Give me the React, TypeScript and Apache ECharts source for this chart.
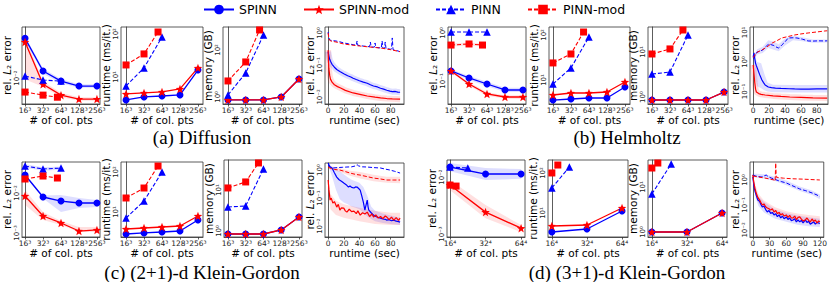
import React, { useEffect, useRef } from 'react';
import * as echarts from 'echarts';

const BLUE = '#0000ff';
const RED = '#ff0000';
const BLUE_BAND = 'rgba(0,0,255,0.13)';
const RED_BAND = 'rgba(255,0,0,0.12)';
const FONT = 'DejaVu Sans';
const STAR = 'path://M12,1 L14.9,8.6 L23,9 L16.7,14.1 L18.9,22 L12,17.5 L5.1,22 L7.3,14.1 L1,9 L9.1,8.6 Z';

const LEGEND_NAMES = ['SPINN', 'SPINN-mod', 'PINN', 'PINN-mod'];
const COL3_LABELS = ['16³', '32³', '64³', '128³', '256³'];
const COL4_LABELS = ['16⁴', '32⁴', '64⁴'];
const X5 = [0, 1, 2, 3, 4];
const X3 = [0, 1, 2];
const CAPTIONS = ['(a) Diffusion', '(b) Helmholtz', '(c) (2+1)-d Klein-Gordon', '(d) (3+1)-d Klein-Gordon'];
const T_TICKS_20 = [0, 20, 40, 60, 80];
const T_TICKS_30 = [0, 30, 60, 90, 120];

// ---------- (a) Diffusion ----------
const A1_SPINN = [0.046, 0.0131, 0.0089, 0.00736, 0.00736];
const A1_SPINN_LO = [0.042, 0.0118, 0.0082, 0.0069, 0.0069];
const A1_SPINN_HI = [0.05, 0.0145, 0.0097, 0.0079, 0.0079];
const A1_MOD = [0.04, 0.0079, 0.0052, 0.00447, 0.00447];
const A1_MOD_LO = [0.0095, 0.0072, 0.0048, 0.0042, 0.0042];
const A1_MOD_HI = [0.05, 0.0088, 0.0057, 0.0048, 0.0048];
const A1_PINN_X = [0, 1, 2];
const A1_PINN = [0.0108, 0.0093, 0.0089];
const A1_PMOD_X = [0, 1, 1.8];
const A1_PMOD = [0.00585, 0.0052, 0.0048];

const A2_SPINN = [2.92, 3.43, 3.61, 3.81, 14.5];
const A2_MOD = [4.03, 4.25, 4.48, 5.26, 16.2];
const A2_PINN = [6.17, 16.2, 85];
const A2_PMOD_X = [0, 1, 1.78];
const A2_PMOD = [19.0, 34.3, 111];

const A3_SPINN = [0.745, 0.745, 0.745, 1.0, 5.83];
const A3_MOD = [0.745, 0.745, 0.745, 1.0, 5.83];
const A3_PINN = [1.22, 10.5, 436];
const A3_PMOD_X = [0, 1, 1.78];
const A3_PMOD = [4.79, 30.9, 711];

const A4_SPINN = [[0, 0.26], [1, 0.19], [2, 0.15], [3, 0.13], [5, 0.105], [8, 0.085], [11, 0.072], [15, 0.062], [20, 0.053], [25, 0.046], [29, 0.042], [32, 0.0384], [36, 0.035], [40, 0.032], [45, 0.029], [50, 0.0268], [54, 0.024], [58, 0.022], [63, 0.0205], [67, 0.0187], [71, 0.0175], [75, 0.0162], [79, 0.0152], [82, 0.0146], [86, 0.0148], [89, 0.0142], [92, 0.014]];
const A4_MOD = [[0, 0.29], [0.5, 0.12], [1, 0.075], [2, 0.047], [3, 0.036], [5, 0.029], [8, 0.024], [12, 0.021], [16, 0.019], [22, 0.016], [32, 0.0133], [42, 0.0118], [50, 0.0107], [60, 0.0098], [67, 0.0093], [75, 0.0089], [82, 0.0087], [92, 0.0085]];
const A4_PINN = [[0, 1.07], [1, 0.7], [2, 0.604], [5, 0.58], [10, 0.562], [15, 0.53], [20, 0.487], [26, 0.46], [32, 0.43], [36, 0.415], [37, 0.562], [38, 0.41], [45, 0.39], [50, 0.38], [53, 0.37], [54, 0.523], [55, 0.365], [59, 0.36], [60, 0.487], [61, 0.355], [65, 0.345], [68, 0.34], [69, 0.562], [70, 0.335], [72, 0.33], [73, 0.523], [74, 0.325], [80, 0.31], [81, 0.316], [82, 0.7], [83, 0.3], [88, 0.28], [92, 0.26]];
const A4_PMOD = [[0, 1.0], [1, 0.65], [3, 0.562], [10, 0.523], [20, 0.453], [30, 0.42], [40, 0.393], [50, 0.37], [60, 0.352], [70, 0.33], [80, 0.3], [92, 0.26]];

// ---------- (b) Helmholtz ----------
const B1_SPINN = [0.162, 0.1155, 0.0866, 0.065, 0.065];
const B1_SPINN_LO = [0.15, 0.105, 0.078, 0.059, 0.059];
const B1_SPINN_HI = [0.175, 0.127, 0.096, 0.072, 0.072];
const B1_MOD = [0.162, 0.0866, 0.0537, 0.0464, 0.0464];
const B1_MOD_LO = [0.152, 0.08, 0.049, 0.043, 0.042];
const B1_MOD_HI = [0.172, 0.094, 0.059, 0.05, 0.051];
const B1_PINN = [1.05, 1.05, 1.05];
const B1_PMOD_X = [0, 1, 1.75];
const B1_PMOD = [0.56, 0.59, 0.56];
const B1_PMOD_LO = [0.52, 0.55, 0.52];
const B1_PMOD_HI = [0.6, 0.63, 0.6];

const B2_SPINN = [3.59, 3.78, 3.98, 3.98, 6.98];
const B2_MOD = [4.64, 5.14, 5.14, 5.41, 9.03];
const B2_PINN = [8.15, 18.5, 90];
const B2_PMOD_X = [0, 1, 1.7];
const B2_PMOD = [23.9, 37.8, 116];

const B3_SPINN = [0.858, 0.858, 0.858, 0.858, 1.29];
const B3_MOD = [0.858, 0.858, 0.858, 0.858, 1.29];
const B3_PINN = [3.24, 3.59, 23.9];
const B3_PMOD_X = [0, 1, 1.72];
const B3_PMOD = [9.03, 11.7, 30.8];

const B4_SPINN = [[0, 1.5], [1, 2.02], [2, 1.3], [3, 0.9], [4, 0.75], [6, 0.536], [8, 0.38], [11, 0.245], [13, 0.2], [15, 0.166], [19, 0.142], [23, 0.135], [28, 0.131], [35, 0.127], [45, 0.124], [52, 0.122], [60, 0.121], [70, 0.121], [80, 0.122], [93, 0.122]];
const B4_SPINN_BAND = [[0, 0.8, 2.0], [2, 0.3, 1.5], [5, 0.15, 1.0], [10, 0.13, 0.9], [14, 0.11, 0.4], [18, 0.1, 0.2], [25, 0.095, 0.17], [50, 0.093, 0.165], [93, 0.093, 0.165]];
const B4_MOD = [[0, 0.79], [1, 0.4], [2, 0.2], [3, 0.12], [4, 0.096], [7, 0.085], [10, 0.08], [15, 0.076], [25, 0.071], [35, 0.068], [46, 0.065], [60, 0.063], [75, 0.061], [93, 0.06]];
const B4_PINN = [[0, 1.3], [1, 1.37], [3, 1.8], [5, 2.18], [8, 2.3], [12, 2.55], [16, 3.3], [19, 4.0], [22, 3.9], [26, 3.6], [30, 3.1], [32, 2.98], [34, 3.3], [36, 3.77], [40, 4.8], [44, 6.5], [50, 6.6], [55, 6.5], [62, 5.9], [69, 5.15], [75, 5.1], [82, 5.2], [90, 5.15], [93, 5.2]];
const B4_PINN_BAND = [[0, 1.1, 1.5], [5, 1.8, 2.7], [12, 2.0, 3.3], [19, 3.0, 5.4], [26, 2.6, 4.8], [32, 2.3, 4.0], [40, 3.6, 6.2], [50, 5.4, 7.8], [62, 5.0, 6.9], [75, 4.5, 5.8], [93, 4.6, 5.8]];
const B4_PMOD = [[0, 1.4], [3, 1.9], [6, 2.2], [11, 2.55], [17, 3.2], [24, 4.4], [30, 5.3], [36, 6.5], [44, 7.3], [52, 8.2], [60, 8.9], [69, 9.6], [80, 10.4], [90, 11.2], [93, 11.4]];

// ---------- (c) (2+1)-d Klein-Gordon ----------
const C1_SPINN = [0.0282, 0.00794, 0.0063, 0.00562, 0.00562];
const C1_SPINN_LO = [0.0265, 0.0073, 0.00335, 0.0042, 0.00447];
const C1_SPINN_HI = [0.03, 0.0087, 0.0089, 0.0075, 0.0067];
const C1_MOD = [0.00841, 0.00266, 0.00178, 0.00112, 0.00119];
const C1_MOD_LO = [0.005, 0.00211, 0.00158, 0.00106, 0.00106];
const C1_MOD_HI = [0.0119, 0.00335, 0.002, 0.00141, 0.00141];
const C1_PINN = [0.0473, 0.0398, 0.042];
const C1_PINN_LO = [0.043, 0.036, 0.038];
const C1_PINN_HI = [0.052, 0.044, 0.046];
const C1_PMOD_X = [0, 1, 1.8];
const C1_PMOD = [0.0224, 0.0266, 0.0237];

const C2_SPINN = [2.82, 2.99, 3.16, 3.35, 6.31];
const C2_MOD = [3.76, 3.98, 4.22, 4.47, 7.94];
const C2_PINN = [7.08, 18.8, 100];
const C2_PMOD_X = [0, 1, 1.78];
const C2_PMOD = [22.4, 39.8, 141];

const C3_SPINN = [0.845, 0.845, 0.845, 1.06, 2.19];
const C3_MOD = [0.845, 0.845, 0.845, 1.06, 2.19];
const C3_PINN = [3.85, 4.07, 32.5];
const C3_PMOD_X = [0, 1, 1.72];
const C3_PMOD = [11.2, 15.7, 45.6];

const C4_SPINN = [[0, 1.78], [2, 1.3], [5, 1.18], [8, 0.8], [11, 0.56], [14, 0.45], [17, 0.4], [20, 0.343], [23, 0.3], [26, 0.247], [28, 0.27], [30, 0.24], [33, 0.228], [35, 0.25], [37, 0.247], [39, 0.22], [41, 0.193], [43, 0.12], [45, 0.072], [47, 0.0373], [48, 0.05], [50, 0.085], [51, 0.05], [52, 0.0373], [55, 0.03], [58, 0.0247], [61, 0.022], [64, 0.0205], [67, 0.0193], [70, 0.018], [73, 0.0175], [75, 0.0164], [78, 0.017], [81, 0.0155], [84, 0.0164], [87, 0.015], [90, 0.0145], [92, 0.0139]];
const C4_SPINN_BAND = [[0, 1.5, 1.9], [5, 0.6, 1.3], [10, 0.2, 1.0], [15, 0.09, 0.9], [20, 0.07, 0.7], [25, 0.06, 0.55], [30, 0.05, 0.45], [35, 0.045, 0.4], [40, 0.04, 0.35], [45, 0.03, 0.25], [50, 0.022, 0.12], [55, 0.018, 0.05], [60, 0.015, 0.035], [70, 0.013, 0.028], [80, 0.012, 0.024], [92, 0.011, 0.02]];
const C4_MOD = [[0, 0.44], [1, 0.2], [2.5, 0.085], [4, 0.1], [6, 0.066], [8, 0.075], [11, 0.0477], [13, 0.06], [15, 0.0373], [17, 0.045], [20, 0.044], [22, 0.035], [24, 0.0316], [27, 0.04], [30, 0.033], [33, 0.0343], [36, 0.028], [38, 0.035], [41, 0.0247], [44, 0.03], [47, 0.027], [50, 0.0316], [53, 0.022], [56, 0.027], [58, 0.021], [61, 0.025], [64, 0.0193], [67, 0.022], [70, 0.0185], [73, 0.023], [75, 0.021], [78, 0.017], [81, 0.021], [84, 0.0164], [87, 0.02], [90, 0.016], [92, 0.0193]];
const C4_MOD_BAND = [[0, 0.2, 0.6], [3, 0.04, 0.14], [10, 0.025, 0.08], [20, 0.02, 0.06], [40, 0.015, 0.045], [60, 0.012, 0.035], [80, 0.011, 0.03], [92, 0.011, 0.03]];
const C4_PINN = [[0, 1.51], [3, 1.28], [6, 1.18], [12, 1.22], [18, 1.25], [24, 1.28], [30, 1.3], [35, 1.4], [37, 1.55], [39, 1.4], [44, 1.3], [50, 1.28], [58, 1.22], [67, 1.18], [73, 1.08], [79, 1.0], [85, 0.9], [92, 0.78]];
const C4_PMOD = [[0, 1.28], [3, 1.15], [8, 1.05], [15, 1.0], [22, 0.88], [28, 0.78], [35, 0.7], [41, 0.66], [50, 0.58], [58, 0.518], [67, 0.48], [75, 0.44], [84, 0.44], [92, 0.44]];
const C4_PMOD_BAND = [[0, 1.1, 1.45], [15, 0.85, 1.15], [28, 0.62, 0.95], [41, 0.5, 0.85], [58, 0.4, 0.68], [75, 0.35, 0.58], [92, 0.34, 0.58]];

// ---------- (d) (3+1)-d Klein-Gordon ----------
const D1_SPINN = [0.015, 0.0113, 0.0113];
const D1_SPINN_LO = [0.0127, 0.0089, 0.0093];
const D1_SPINN_HI = [0.0176, 0.0144, 0.0138];
const D1_MOD = [0.00724, 0.00243, 0.00127];
const D1_MOD_LO = [0.0059, 0.0019, 0.00108];
const D1_MOD_HI = [0.00886, 0.00324, 0.00144];
const D1_PINN_X = [0, 0.5];
const D1_PINN = [0.015, 0.0144];
const D1_PMOD_X = [0, 0.17];
const D1_PMOD = [0.00724, 0.00695];

const D2_SPINN = [3.35, 3.98, 11.2];
const D2_MOD = [4.73, 5.01, 13.3];
const D2_PINN_X = [0, 0.5];
const D2_PINN = [42.2, 141];
const D2_PMOD_X = [0, 0.17];
const D2_PMOD = [100, 158];

const D3_SPINN = [1.0, 1.0, 2.64];
const D3_MOD = [1.0, 1.0, 2.64];
const D3_PINN_X = [0, 0.55];
const D3_PINN = [6.99, 32.4];
const D3_PMOD_X = [0, 0.17];
const D3_PMOD = [26.4, 34.1];

const D4_SPINN = [[0, 1.32], [2, 0.6], [4, 0.35], [6, 0.25], [9, 0.158], [12, 0.14], [15, 0.1], [17, 0.083], [20, 0.09], [23, 0.065], [26, 0.0525], [29, 0.06], [32, 0.046], [35, 0.05], [38, 0.0398], [41, 0.045], [44, 0.034], [47, 0.04], [50, 0.0302], [53, 0.036], [56, 0.028], [60, 0.0331], [63, 0.026], [66, 0.03], [69, 0.0235], [72, 0.0251], [75, 0.028], [78, 0.021], [81, 0.025], [84, 0.0209], [87, 0.024], [90, 0.019], [94, 0.0251], [97, 0.02], [100, 0.022], [103, 0.017], [106, 0.019], [109, 0.021], [112, 0.017], [115, 0.02], [118, 0.019], [120, 0.018]];
const D4_SPINN_BAND = [[0, 1.0, 1.6], [5, 0.2, 0.45], [10, 0.09, 0.22], [20, 0.05, 0.13], [40, 0.028, 0.065], [60, 0.021, 0.048], [80, 0.016, 0.038], [100, 0.014, 0.032], [120, 0.013, 0.028]];
const D4_MOD = [[0, 1.58], [2, 0.75], [4, 0.45], [6, 0.3], [9, 0.2], [12, 0.16], [15, 0.12], [17, 0.1], [20, 0.11], [23, 0.085], [26, 0.076], [29, 0.07], [32, 0.062], [35, 0.07], [38, 0.0525], [41, 0.06], [44, 0.045], [47, 0.05], [50, 0.0398], [53, 0.045], [56, 0.036], [60, 0.0398], [63, 0.032], [66, 0.038], [69, 0.03], [72, 0.0302], [75, 0.036], [78, 0.026], [81, 0.032], [84, 0.0331], [87, 0.027], [90, 0.023], [94, 0.0251], [97, 0.03], [100, 0.024], [103, 0.021], [106, 0.0275], [109, 0.022], [112, 0.025], [115, 0.019], [118, 0.023], [120, 0.0209]];
const D4_MOD_BAND = [[0, 1.2, 1.8], [5, 0.25, 0.6], [10, 0.12, 0.28], [20, 0.07, 0.15], [40, 0.037, 0.08], [60, 0.027, 0.056], [80, 0.021, 0.045], [100, 0.018, 0.04], [120, 0.016, 0.035]];
const D4_PINN = [[0, 1.58], [5, 1.45], [10, 1.38], [15, 1.32], [20, 1.45], [24, 1.58], [28, 1.35], [33, 1.2], [38, 1.1], [45, 0.95], [52, 0.85], [60, 0.76], [70, 0.6], [84, 0.437], [95, 0.37], [106, 0.302], [115, 0.25], [120, 0.209]];
const D4_PINN_BAND = [[0, 1.3, 1.8], [20, 1.15, 1.7], [40, 0.9, 1.35], [60, 0.62, 0.95], [84, 0.36, 0.55], [106, 0.25, 0.38], [120, 0.17, 0.26]];
const D4_PMOD = [[0, 1.45], [10, 1.32], [21, 1.2], [30, 1.1], [38, 1.0], [40, 0.9], [41, 4.79], [42, 1.3], [46, 1.25], [55, 1.18], [70, 1.12], [90, 1.08], [120, 1.0]];

// ---------- layout (positions only) ----------
// [left, top, width, height]
const GRIDS = [
  [22, 27, 78, 77], [121, 27, 82, 77], [223, 27, 79, 77], [325, 27, 79, 77],
  [448, 27, 78, 77], [549, 27, 81, 77], [648, 27, 80, 77], [750, 27, 78, 77],
  [22, 162, 78, 75], [121, 162, 82, 75], [224, 160, 78, 77], [325, 163, 79, 74],
  [447, 160, 78, 77], [548, 160, 80, 77], [648, 160, 79, 77], [750, 162, 77, 75],
];

type XCfg = { kind: 'col3' | 'col4' | 'time'; min: number; max: number; ticks?: number[] };
type YCfg = { min: number; max: number; name: 'err' | 'rt' | 'mem'; gap: number; even?: boolean };
const XCFG: XCfg[] = [
  { kind: 'col3', min: -0.17, max: 4.17 }, { kind: 'col3', min: -0.28, max: 4.28 }, { kind: 'col3', min: -0.28, max: 4.17 }, { kind: 'time', min: -4, max: 97, ticks: T_TICKS_20 },
  { kind: 'col3', min: -0.17, max: 4.17 }, { kind: 'col3', min: -0.22, max: 4.28 }, { kind: 'col3', min: -0.22, max: 4.22 }, { kind: 'time', min: -4, max: 94, ticks: T_TICKS_20 },
  { kind: 'col3', min: -0.17, max: 4.17 }, { kind: 'col3', min: -0.28, max: 4.28 }, { kind: 'col3', min: -0.22, max: 4.17 }, { kind: 'time', min: -4, max: 97, ticks: T_TICKS_20 },
  { kind: 'col4', min: -0.085, max: 2.11 }, { kind: 'col4', min: -0.11, max: 2.17 }, { kind: 'col4', min: -0.11, max: 2.14 }, { kind: 'time', min: -5, max: 127, ticks: T_TICKS_30 },
];
const YCFG: YCfg[] = [
  { min: 0.0037, max: 0.071, name: 'err', gap: 10 }, { min: 2.35, max: 145, name: 'rt', gap: 7 }, { min: 0.5, max: 950, name: 'mem', gap: 8, even: true }, { min: 0.006, max: 1.54, name: 'err', gap: 8 },
  { min: 0.0332, max: 1.33, name: 'err', gap: 10 }, { min: 2.93, max: 150, name: 'rt', gap: 8 }, { min: 0.7, max: 35.9, name: 'mem', gap: 8 }, { min: 0.0377, max: 15.3, name: 'err', gap: 8 },
  { min: 0.000794, max: 0.0596, name: 'err', gap: 10 }, { min: 2.37, max: 178, name: 'rt', gap: 7 }, { min: 0.714, max: 53.8, name: 'mem', gap: 8 }, { min: 0.0041, max: 1.78, name: 'err', gap: 8 },
  { min: 0.00089, max: 0.0199, name: 'err', gap: 10 }, { min: 2.51, max: 211, name: 'rt', gap: 8 }, { min: 0.774, max: 39.8, name: 'mem', gap: 8 }, { min: 0.0052, max: 5.25, name: 'err', gap: 8 },
];
const CAPTION_POS = [[202, 137], [627, 137], [202, 272], [627, 272]];
const LEGEND_LEFT = [203, 303, 435, 527];

const SUP: Record<string, string> = { '-': '⁻', '0': '⁰', '1': '¹', '2': '²', '3': '³', '4': '⁴', '5': '⁵', '6': '⁶', '7': '⁷', '8': '⁸', '9': '⁹' };
function pow10Label(v: number, even?: boolean) {
  const e = Math.log10(v);
  const r = Math.round(e);
  if (Math.abs(e - r) > 1e-6) return '';
  if (even && r % 2 !== 0) return '';
  return '10' + String(r).split('').map((c) => SUP[c]).join('');
}

const STYLE: Record<string, any> = {
  'SPINN': { color: BLUE, symbol: 'circle', size: 7, type: 'solid', width: 1.3 },
  'SPINN-mod': { color: RED, symbol: STAR, size: 8.5, type: 'solid', width: 1.3 },
  'PINN': { color: BLUE, symbol: 'triangle', size: 7.5, type: [4, 2], width: 1.1 },
  'PINN-mod': { color: RED, symbol: 'rect', size: 7, type: [4, 2], width: 1.1 },
};

function pairs(xs: number[], ys: number[]) {
  return ys.map((y, i) => [xs[i], y]);
}
function triples(xs: number[], lo: number[], hi: number[]) {
  return xs.map((x, i) => [x, lo[i], hi[i]]);
}

function lineSeries(name: string, gi: number, data: number[][], symbols = true) {
  const s = STYLE[name];
  return {
    type: 'line', name, xAxisIndex: gi, yAxisIndex: gi, data,
    symbol: s.symbol, symbolSize: s.size, showSymbol: symbols,
    lineStyle: { color: s.color, width: symbols ? s.width : (s.type === 'solid' ? 1.2 : 1.0), type: s.type },
    itemStyle: { color: s.color },
    silent: true, z: 3,
  };
}
function glowSeries(gi: number, data: number[][], color: string) {
  return {
    type: 'line', xAxisIndex: gi, yAxisIndex: gi, data, symbol: 'none', showSymbol: false,
    lineStyle: { color, width: 6, opacity: 0.13 }, silent: true, z: 1,
  };
}
function bandSeries(gi: number, pts: number[][], fill: string) {
  return {
    type: 'custom', xAxisIndex: gi, yAxisIndex: gi, silent: true, clip: true, z: 1,
    data: [[pts[0][0], pts[0][1]]],
    renderItem: (_p: any, api: any) => {
      const up = pts.map((p) => api.coord([p[0], p[2]]));
      const lo = pts.map((p) => api.coord([p[0], p[1]])).reverse();
      return { type: 'polygon', shape: { points: up.concat(lo) }, style: { fill } };
    },
  };
}

function buildOption() {
  const series: any[] = [];
  // (a1)
  series.push(lineSeries('SPINN', 0, pairs(X5, A1_SPINN)));
  series.push(lineSeries('SPINN-mod', 0, pairs(X5, A1_MOD)));
  series.push(lineSeries('PINN', 0, pairs(A1_PINN_X, A1_PINN)));
  series.push(lineSeries('PINN-mod', 0, pairs(A1_PMOD_X, A1_PMOD)));
  series.push(bandSeries(0, triples(X5, A1_SPINN_LO, A1_SPINN_HI), BLUE_BAND));
  series.push(bandSeries(0, triples(X5, A1_MOD_LO, A1_MOD_HI), RED_BAND));
  // (a2)
  series.push(lineSeries('SPINN', 1, pairs(X5, A2_SPINN)));
  series.push(lineSeries('SPINN-mod', 1, pairs(X5, A2_MOD)));
  series.push(lineSeries('PINN', 1, pairs(X3, A2_PINN)));
  series.push(lineSeries('PINN-mod', 1, pairs(A2_PMOD_X, A2_PMOD)));
  // (a3)
  series.push(lineSeries('SPINN', 2, pairs(X5, A3_SPINN)));
  series.push(lineSeries('SPINN-mod', 2, pairs(X5, A3_MOD)));
  series.push(lineSeries('PINN', 2, pairs(X3, A3_PINN)));
  series.push(lineSeries('PINN-mod', 2, pairs(A3_PMOD_X, A3_PMOD)));
  // (a4)
  series.push(glowSeries(3, A4_SPINN, BLUE));
  series.push(glowSeries(3, A4_MOD, RED));
  series.push(lineSeries('SPINN', 3, A4_SPINN, false));
  series.push(lineSeries('SPINN-mod', 3, A4_MOD, false));
  series.push(lineSeries('PINN', 3, A4_PINN, false));
  series.push(lineSeries('PINN-mod', 3, A4_PMOD, false));
  // (b1)
  series.push(bandSeries(4, triples(X5, B1_SPINN_LO, B1_SPINN_HI), BLUE_BAND));
  series.push(bandSeries(4, triples(X5, B1_MOD_LO, B1_MOD_HI), RED_BAND));
  series.push(bandSeries(4, triples(B1_PMOD_X, B1_PMOD_LO, B1_PMOD_HI), RED_BAND));
  series.push(lineSeries('SPINN', 4, pairs(X5, B1_SPINN)));
  series.push(lineSeries('SPINN-mod', 4, pairs(X5, B1_MOD)));
  series.push(lineSeries('PINN', 4, pairs(X3, B1_PINN)));
  series.push(lineSeries('PINN-mod', 4, pairs(B1_PMOD_X, B1_PMOD)));
  // (b2)
  series.push(lineSeries('SPINN', 5, pairs(X5, B2_SPINN)));
  series.push(lineSeries('SPINN-mod', 5, pairs(X5, B2_MOD)));
  series.push(lineSeries('PINN', 5, pairs(X3, B2_PINN)));
  series.push(lineSeries('PINN-mod', 5, pairs(B2_PMOD_X, B2_PMOD)));
  // (b3)
  series.push(lineSeries('SPINN', 6, pairs(X5, B3_SPINN)));
  series.push(lineSeries('SPINN-mod', 6, pairs(X5, B3_MOD)));
  series.push(lineSeries('PINN', 6, pairs(X3, B3_PINN)));
  series.push(lineSeries('PINN-mod', 6, pairs(B3_PMOD_X, B3_PMOD)));
  // (b4)
  series.push(bandSeries(7, B4_PINN_BAND, BLUE_BAND));
  series.push(bandSeries(7, B4_SPINN_BAND, BLUE_BAND));
  series.push(glowSeries(7, B4_MOD, RED));
  series.push(lineSeries('SPINN', 7, B4_SPINN, false));
  series.push(lineSeries('SPINN-mod', 7, B4_MOD, false));
  series.push(lineSeries('PINN', 7, B4_PINN, false));
  series.push(lineSeries('PINN-mod', 7, B4_PMOD, false));
  // (c1)
  series.push(bandSeries(8, triples(X5, C1_SPINN_LO, C1_SPINN_HI), BLUE_BAND));
  series.push(bandSeries(8, triples(X5, C1_MOD_LO, C1_MOD_HI), RED_BAND));
  series.push(bandSeries(8, triples(X3, C1_PINN_LO, C1_PINN_HI), BLUE_BAND));
  series.push(lineSeries('SPINN', 8, pairs(X5, C1_SPINN)));
  series.push(lineSeries('SPINN-mod', 8, pairs(X5, C1_MOD)));
  series.push(lineSeries('PINN', 8, pairs(X3, C1_PINN)));
  series.push(lineSeries('PINN-mod', 8, pairs(C1_PMOD_X, C1_PMOD)));
  // (c2)
  series.push(lineSeries('SPINN', 9, pairs(X5, C2_SPINN)));
  series.push(lineSeries('SPINN-mod', 9, pairs(X5, C2_MOD)));
  series.push(lineSeries('PINN', 9, pairs(X3, C2_PINN)));
  series.push(lineSeries('PINN-mod', 9, pairs(C2_PMOD_X, C2_PMOD)));
  // (c3)
  series.push(lineSeries('SPINN', 10, pairs(X5, C3_SPINN)));
  series.push(lineSeries('SPINN-mod', 10, pairs(X5, C3_MOD)));
  series.push(lineSeries('PINN', 10, pairs(X3, C3_PINN)));
  series.push(lineSeries('PINN-mod', 10, pairs(C3_PMOD_X, C3_PMOD)));
  // (c4)
  series.push(bandSeries(11, C4_SPINN_BAND, BLUE_BAND));
  series.push(bandSeries(11, C4_MOD_BAND, RED_BAND));
  series.push(bandSeries(11, C4_PMOD_BAND, RED_BAND));
  series.push(lineSeries('SPINN', 11, C4_SPINN, false));
  series.push(lineSeries('SPINN-mod', 11, C4_MOD, false));
  series.push(lineSeries('PINN', 11, C4_PINN, false));
  series.push(lineSeries('PINN-mod', 11, C4_PMOD, false));
  // (d1)
  series.push(bandSeries(12, triples(X3, D1_SPINN_LO, D1_SPINN_HI), BLUE_BAND));
  series.push(bandSeries(12, triples(X3, D1_MOD_LO, D1_MOD_HI), RED_BAND));
  series.push(lineSeries('SPINN', 12, pairs(X3, D1_SPINN)));
  series.push(lineSeries('SPINN-mod', 12, pairs(X3, D1_MOD)));
  series.push(lineSeries('PINN', 12, pairs(D1_PINN_X, D1_PINN)));
  series.push(lineSeries('PINN-mod', 12, pairs(D1_PMOD_X, D1_PMOD)));
  // (d2)
  series.push(lineSeries('SPINN', 13, pairs(X3, D2_SPINN)));
  series.push(lineSeries('SPINN-mod', 13, pairs(X3, D2_MOD)));
  series.push(lineSeries('PINN', 13, pairs(D2_PINN_X, D2_PINN)));
  series.push(lineSeries('PINN-mod', 13, pairs(D2_PMOD_X, D2_PMOD)));
  // (d3)
  series.push(lineSeries('SPINN', 14, pairs(X3, D3_SPINN)));
  series.push(lineSeries('SPINN-mod', 14, pairs(X3, D3_MOD)));
  series.push(lineSeries('PINN', 14, pairs(D3_PINN_X, D3_PINN)));
  series.push(lineSeries('PINN-mod', 14, pairs(D3_PMOD_X, D3_PMOD)));
  // (d4)
  series.push(bandSeries(15, D4_SPINN_BAND, BLUE_BAND));
  series.push(bandSeries(15, D4_MOD_BAND, RED_BAND));
  series.push(bandSeries(15, D4_PINN_BAND, BLUE_BAND));
  series.push(lineSeries('SPINN', 15, D4_SPINN, false));
  series.push(lineSeries('SPINN-mod', 15, D4_MOD, false));
  series.push(lineSeries('PINN', 15, D4_PINN, false));
  series.push(lineSeries('PINN-mod', 15, D4_PMOD, false));

  const grid = GRIDS.map((g) => ({
    left: g[0], top: g[1], width: g[2], height: g[3],
    show: true, borderColor: '#333', borderWidth: 0.8, backgroundColor: 'transparent', containLabel: false,
  }));

  const xAxis = XCFG.map((c, gi) => {
    const values = c.kind === 'time' ? (c.ticks as number[]) : c.kind === 'col3' ? X5 : X3;
    const labels = c.kind === 'col3' ? COL3_LABELS : COL4_LABELS;
    return {
      type: 'value', gridIndex: gi, min: c.min, max: c.max,
      name: c.kind === 'time' ? 'runtime (sec)' : '# of col. pts',
      nameLocation: 'middle', nameGap: 8,
      nameTextStyle: { fontSize: 10.5, fontFamily: FONT, color: '#000' },
      axisLine: { show: true, lineStyle: { color: '#333', width: 0.8 } },
      axisTick: { show: true, length: 2.5, customValues: values, lineStyle: { color: '#333', width: 0.8 } },
      splitLine: { show: false },
      axisLabel: {
        customValues: values, fontSize: 7.5, margin: 2, color: '#222', fontFamily: FONT,
        hideOverlap: false, showMinLabel: true, showMaxLabel: true,
        formatter: (v: number) => (c.kind === 'time' ? String(v) : labels[Math.round(v)]),
      },
    };
  });

  const yAxis = YCFG.map((c, gi) => ({
    type: 'log', logBase: 10, gridIndex: gi, min: c.min, max: c.max,
    name: c.name === 'err' ? 'rel. {i|L}₂ error' : c.name === 'rt' ? 'runtime (ms/it.)' : 'memory (GB)',
    nameLocation: 'middle', nameGap: c.gap,
    nameTextStyle: { fontSize: 10.5, fontFamily: FONT, color: '#000', rich: { i: { fontStyle: 'italic', fontSize: 10.5, fontFamily: FONT, color: '#000' } } },
    axisLine: { show: true, lineStyle: { color: '#333', width: 0.8 } },
    axisTick: { show: false },
    splitLine: { show: false },
    axisLabel: {
      rotate: 90, fontSize: 7, margin: 1.5, color: '#222', fontFamily: FONT, hideOverlap: false,
      formatter: (v: number) => pow10Label(v, c.even),
    },
  }));

  const legend = LEGEND_NAMES.map((n, i) => ({
    data: [n], left: LEGEND_LEFT[i], top: 3, padding: 0, itemWidth: 30, itemHeight: 12, itemGap: 0,
    selectedMode: false,
    textStyle: { fontSize: 12.5, fontFamily: FONT, color: '#000' },
  }));

  const graphic = CAPTIONS.map((t, i) => ({
    type: 'text', x: CAPTION_POS[i][0], y: CAPTION_POS[i][1], silent: true,
    style: { text: t, fontSize: 19, fontFamily: 'Liberation Serif', fill: '#000', align: 'center', verticalAlign: 'middle' },
  }));

  return { animation: false, backgroundColor: '#ffffff', grid, xAxis, yAxis, legend, graphic, series };
}

export default function App() {
  const ref = useRef<HTMLDivElement>(null);
  useEffect(() => {
    document.body.style.margin = '0';
    if (!ref.current) return;
    const chart = echarts.init(ref.current, null, { renderer: 'svg' });
    chart.setOption(buildOption() as any);
    return () => chart.dispose();
  }, []);
  return <div ref={ref} style={{ width: 830, height: 282 }} />;
}
